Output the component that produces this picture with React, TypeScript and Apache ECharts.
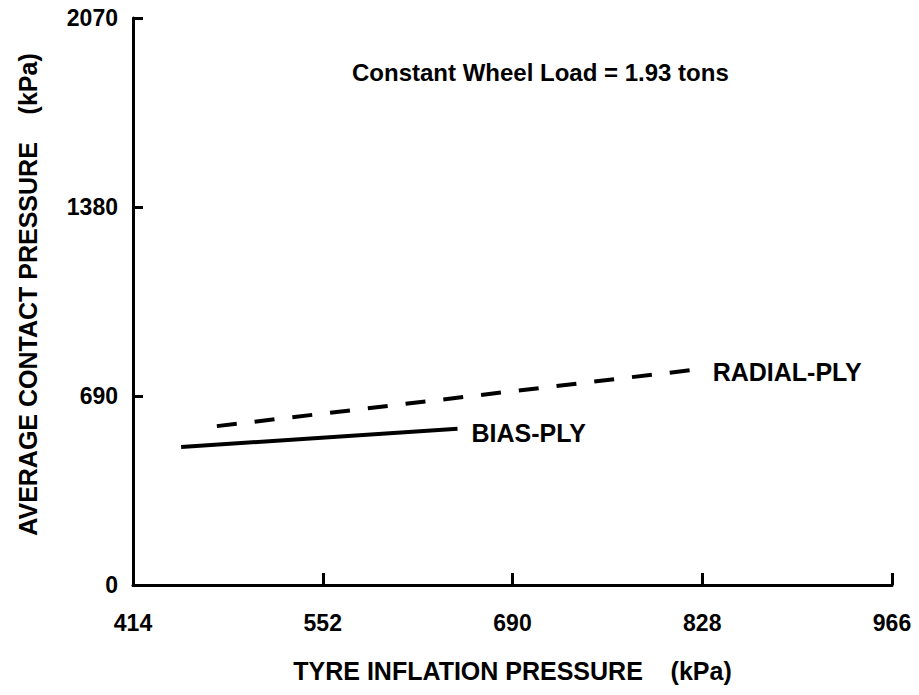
import React, { useEffect, useRef } from "react";
import * as echarts from "echarts";

const xTicks = [414, 552, 690, 828, 966];
const yTicks = [0, 690, 1380, 2070];
const biasPly: [number, number][] = [
  [449, 504],
  [650, 570],
];
const radialPly: [number, number][] = [
  [475, 580],
  [821, 785],
];
const titleText = "Constant Wheel Load = 1.93 tons";
const xName = "TYRE INFLATION PRESSURE    (kPa)";
const yName = "AVERAGE CONTACT PRESSURE    (kPa)";

const FONT = "'Liberation Sans', Arial, Helvetica, sans-serif";

export default function App() {
  const ref = useRef<HTMLDivElement>(null);
  useEffect(() => {
    if (!ref.current) return;
    const chart = echarts.init(ref.current, null, { renderer: "svg" });
    chart.setOption({
      animation: false,
      backgroundColor: "#ffffff",
      textStyle: { fontFamily: FONT },
      grid: { left: 133, right: 27, top: 18, bottom: 110, containLabel: false },
      graphic: [
        {
          type: "text",
          left: 352,
          top: 60,
          style: {
            text: titleText,
            fontSize: 24,
            fontWeight: "bold",
            fontFamily: FONT,
            fill: "#000",
          },
        },
      ],
      xAxis: {
        type: "value",
        min: xTicks[0],
        max: xTicks[xTicks.length - 1],
        interval: 138,
        name: xName,
        nameLocation: "middle",
        nameGap: 73,
        nameTextStyle: { fontSize: 25, fontWeight: "bold", color: "#000", fontFamily: FONT },
        axisLine: { lineStyle: { color: "#000", width: 3 } },
        axisTick: { inside: true, length: 12, lineStyle: { color: "#000", width: 3 } },
        axisLabel: {
          fontSize: 23,
          fontWeight: "bold",
          color: "#000",
          margin: 26,
          fontFamily: FONT,
          formatter: (v: number) => String(v),
        },
        splitLine: { show: false },
      },
      yAxis: {
        type: "value",
        min: yTicks[0],
        max: yTicks[yTicks.length - 1],
        interval: 690,
        name: yName,
        nameLocation: "middle",
        nameGap: 93,
        nameTextStyle: {
          fontSize: 25,
          fontWeight: "bold",
          color: "#000",
          fontFamily: FONT,
          padding: [0, 0, 0, 14],
        },
        axisLine: { show: true, lineStyle: { color: "#000", width: 3 } },
        axisTick: { show: true, inside: true, length: 10, lineStyle: { color: "#000", width: 3 } },
        axisLabel: {
          fontSize: 23,
          fontWeight: "bold",
          color: "#000",
          margin: 15,
          fontFamily: FONT,
          formatter: (v: number) => String(v),
        },
        splitLine: { show: false },
      },
      series: [
        {
          name: "BIAS-PLY",
          type: "line",
          data: biasPly,
          symbol: "none",
          lineStyle: { color: "#000", width: 4, type: "solid" },
          endLabel: {
            show: true,
            formatter: "{a}",
            distance: 14,
            fontSize: 25,
            fontWeight: "bold",
            color: "#000",
            fontFamily: FONT,
            offset: [0, 4],
          },
        },
        {
          name: "RADIAL-PLY",
          type: "line",
          data: radialPly,
          symbol: "none",
          lineStyle: { color: "#000", width: 4, type: [20, 18] },
          endLabel: {
            show: true,
            formatter: "{a}",
            distance: 20,
            fontSize: 25,
            fontWeight: "bold",
            color: "#000",
            fontFamily: FONT,
            offset: [0, 2],
          },
        },
      ],
    });
    return () => chart.dispose();
  }, []);
  return (
    <div
      ref={ref}
      style={{ position: "fixed", left: 0, top: 0, width: 919, height: 695, background: "#fff" }}
    />
  );
}
